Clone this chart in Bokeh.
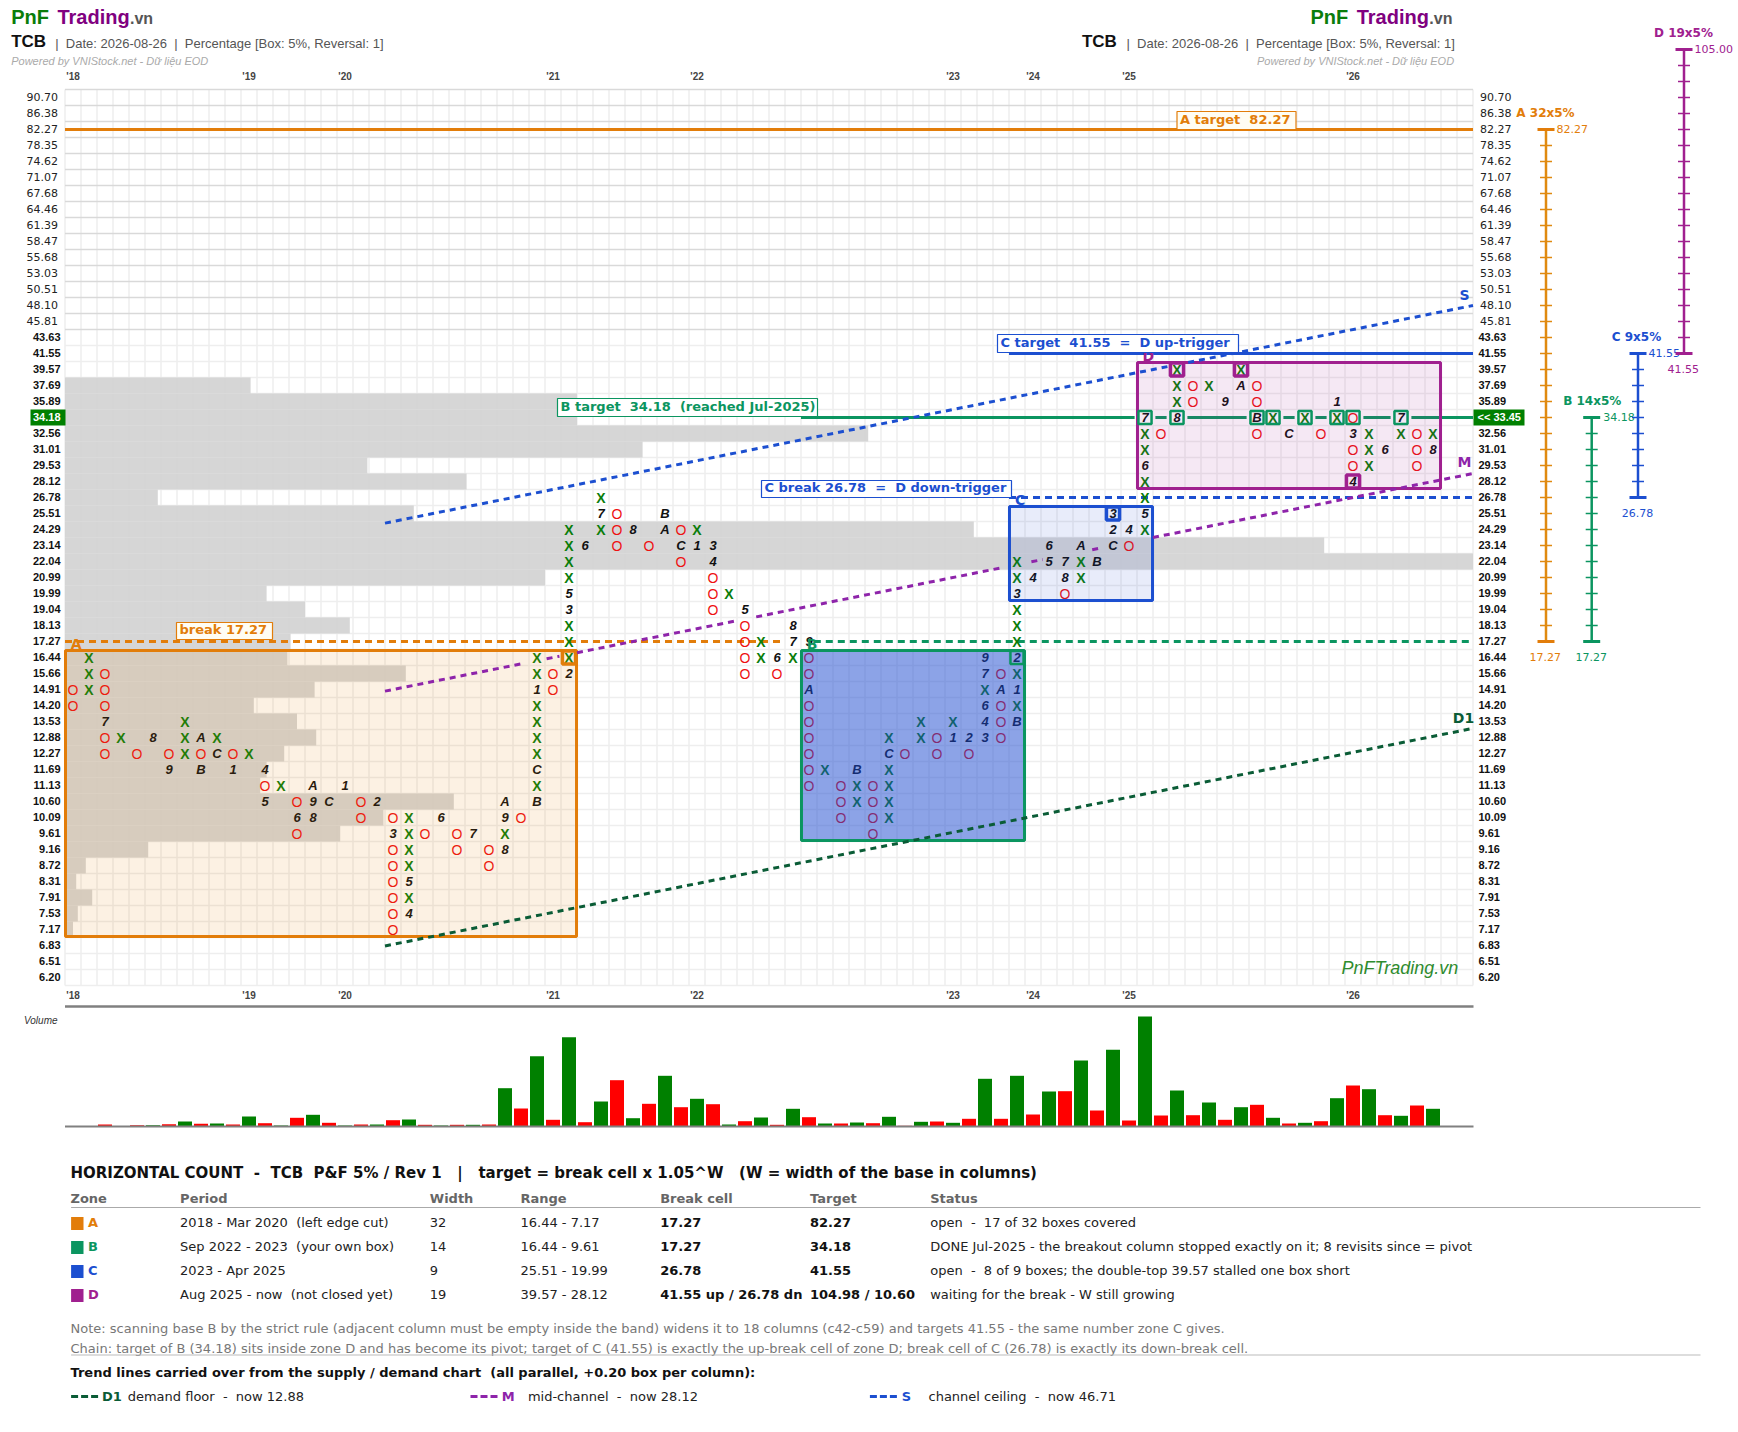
import re
from bokeh.plotting import figure
from bokeh.models import Range1d
from bokeh.core.properties import value
from bokeh.embed import file_html
from bokeh.resources import INLINE

# ---------------- data ----------------
price_labels = ["90.70","86.38","82.27","78.35","74.62","71.07","67.68","64.46","61.39","58.47",
 "55.68","53.03","50.51","48.10","45.81","43.63","41.55","39.57","37.69","35.89","34.18","32.56",
 "31.01","29.53","28.12","26.78","25.51","24.29","23.14","22.04","20.99","19.99","19.04","18.13",
 "17.27","16.44","15.66","14.91","14.20","13.53","12.88","12.27","11.69","11.13","10.60","10.09",
 "9.61","9.16","8.72","8.31","7.91","7.53","7.17","6.83","6.51","6.20"]
year_labels = ["'18","'19","'20","'21","'22","'23","'24","'25","'26"]
year_cols = [0,11,17,30,39,55,60,66,80]

col_index = list(range(86))
col_top = ["14.91","16.44","15.66","12.88","12.27","12.88","12.27","13.53","12.88","12.88",
 "12.27","12.27","11.69","11.13","10.60","11.13","10.60","11.13","10.60","10.60",
 "10.09","10.09","9.61","10.09","9.61","9.61","9.16","10.60","10.09","16.44",
 "15.66","24.29","23.14","26.78","25.51","24.29","23.14","25.51","24.29","24.29",
 "23.14","19.99","19.04","17.27","16.44","18.13","17.27","11.69","11.13","11.69",
 "11.13","12.88","12.27","13.53","12.88","13.53","12.88","16.44","15.66","22.04",
 "20.99","23.14","22.04","23.14","22.04","25.51","24.29","34.18","32.56","39.57",
 "37.69","37.69","35.89","39.57","37.69","34.18","32.56","34.18","32.56","35.89",
 "34.18","32.56","31.01","34.18","32.56","32.56"]
col_marks = ["OO","XXX","OOO7OO","X","O","8","O9","XXX","AOB","XC",
 "O1","X","4O5","X","O6O","A98","C","1","OO","2",
 "O3OOOOOO","XXXX5X4","O","6","OO","7","OO","A9X8","O","XX1XXXXCXB",
 "OO","XXXX53XXX2","6","X7X","OOO","8","O","BA","OCO","X1",
 "34OOO","X","5OOOO","XX","6O","87X","9OOAOOOOOO","X","OOO","BXX",
 "OOOO","XCXXXX","O","XX","OO","X1","2O","97X643","OAOOO","XX3XXX2X1XB",
 "4","65","78O","AXX","B","32C","4O","7XX6XX5X","O","XXX8",
 "OO","X","9","XA","OOBO","X","C","X","O","1X",
 "O3OO4","XXX","6","7X","OOO","X8"]

profile_top = "37.69"
profile_widths = [11.6,32.0,32.0,50.2,36.1,18.9,25.1,5.8,21.8,56.8,78.7,88.0,30.0,12.6,15.0,17.8,14.1,13.9,
 21.3,15.6,11.8,14.5,15.7,13.7,12.6,12.2,24.3,19.9,17.2,5.2,1.3,0.7,1.7,0.8,0.5]

volume = [0,0.5,2,0.3,1.3,1.3,2.3,5,2.7,3,2,10,3.3,1,8.7,11.7,3.7,1,2,2,6.3,7,1.7,1,1.7,1.7,2,38.3,18,70.3,
 6.7,89.3,4.3,25,46.3,8.3,22.7,50.7,19.3,27.7,22.3,2,5.3,9,1.7,17.7,9.3,3,3,4,3.3,9.7,0.7,4.7,5,3.7,7.7,47.7,
 7.7,50.7,12,35,35.3,66,16,76.7,6,110,11,36,11.3,24,6.7,19.3,21.7,8.7,3,3.7,5.3,28.3,41,37.3,11.3,10.7,21,17.7]
volume_dir = "rg"*43

zone_names = ["A","B","C","D"]
zone_col0 = [0,46,59,67]
zone_col1 = [31,59,67,85]
zone_hi = ["16.44","16.44","25.51","39.57"]
zone_lo = ["7.17","9.61","19.99","28.12"]
zone_line = ["#e27d0a","#0b9560","#1c4fd0","#a0208f"]
zone_fill = ["#e67e00","#1a47d0","#1a47d0","#a0208f"]
zone_alpha = [0.11,0.5,0.1,0.1]

boxed_col = [31,59,65,69,73,80,67,69,74,75,77,79,80,83]
boxed_price = ["16.44","16.44","25.51","39.57","39.57","28.12","34.18","34.18","34.18","34.18","34.18","34.18","34.18","34.18"]
boxed_color = ["#e27d0a","#0b9560","#1c4fd0","#a0208f","#a0208f","#a0208f"]+["#0b9560"]*8

trend_s_cols = [(19.5,68.4),(69.7,87.5)]
trend_m_cols = [(19.5,28.1),(29.6,30.4),(31.5,41.4),(42.7,58.2),(59.9,60.6),(63.7,64.2),(67.5,87.5)]
trend_d_cols = [(19.5,87.5)]
trend_start_row = {"S":26.6,"M":37.1,"D1":53.03}
trend_slope = -0.2

ruler_name = ["A 32x5%","B 14x5%","C 9x5%","D 19x5%"]
ruler_hi = [2,20,16,-3]
ruler_lo = [34,34,25,16]
ruler_hi_txt = ["82.27","34.18","41.55","105.00"]
ruler_lo_txt = ["17.27","17.27","26.78","41.55"]

table_head = ["Zone","Period","Width","Range","Break cell","Target","Status"]
table_period = ["2018 - Mar 2020  (left edge cut)","Sep 2022 - 2023  (your own box)","2023 - Apr 2025","Aug 2025 - now  (not closed yet)"]
table_width = ["32","14","9","19"]
table_range = ["16.44 - 7.17","16.44 - 9.61","25.51 - 19.99","39.57 - 28.12"]
table_break = ["17.27","17.27","26.78","41.55 up / 26.78 dn"]
table_target = ["82.27","34.18","41.55","104.98 / 10.60"]
table_status = ["open  -  17 of 32 boxes covered",
 "DONE Jul-2025 - the breakout column stopped exactly on it; 8 revisits since = pivot",
 "open  -  8 of 9 boxes; the double-top 39.57 stalled one box short",
 "waiting for the break - W still growing"]

# ---------------- page geometry ----------------
W, H = 1736, 1430
ORG = 0
def X(px): return (px - 72.5) / 16.0
def Y(py): return (py - 97.0) / 16.0
row_of = {p: i for i, p in enumerate(price_labels)}
N_COL, N_ROW = 88, 56
BASE = 1126.0

p = figure(width=W, height=H, x_range=Range1d(X(ORG), X(ORG+W)), y_range=Range1d(Y(ORG+H), Y(ORG)),
           output_backend="svg", toolbar_location=None, min_border=0,
           x_axis_type=None, y_axis_type=None, outline_line_color=None, tools="")
p.grid.visible = False
p.extra_y_ranges["vol"] = Range1d(BASE-(ORG+H), BASE-ORG)

DV = "DejaVu Sans"; LS = "Liberation Sans"
def keep_spaces(s):
    return re.sub(r" {2,}", lambda m: " " + "\u00a0"*(len(m.group())-1), s)
def txt(px, py, s, size=11, color="#222222", style="normal", font=DV, align="left"):
    p.text([X(px)], [Y(py-1)], text=[keep_spaces(s)], text_font=value(font), text_font_size=f"{size}px",
           text_color=color, text_font_style=style, text_align=align, text_baseline="middle")

# grid
x_edges = [c-0.5 for c in range(N_COL+1)]
p.segment(x_edges, [-0.5]*len(x_edges), x_edges, [N_ROW-0.5]*len(x_edges), line_color="#eeeeee", line_width=1.5)
y_edges = [r-0.5 for r in range(N_ROW+1)]
p.segment([-0.5]*len(y_edges), y_edges, [N_COL-0.5]*len(y_edges), y_edges,
          line_color=["#d9d9d9" if r <= 15 else "#eeeeee" for r in range(N_ROW+1)], line_width=1.5)

# volume-at-price profile
r0 = row_of[profile_top]
p.hbar(y=[r0+i for i in range(len(profile_widths))], left=-0.5, right=[w-0.5 for w in profile_widths],
       height=1, fill_color="#d3d3d3", fill_alpha=0.92, line_color=None)

# target and break lines
def hline(price, c0, c1, color, width, dash="solid"):
    r = row_of[price]
    p.line([c0, c1], [r, r], line_color=color, line_width=width, line_dash=dash)
hline("82.27", -0.5, 87.5, "#e27d0a", 3)
hline("41.55", 58.5, 87.5, "#1c4fd0", 3)
hline("34.18", 45.5, 87.5, "#0b9560", 3)
hline("17.27", -0.5, 44.3, "#e27d0a", 3, "7 5")
hline("17.27", 46.3, 87.5, "#0b9560", 3, "7 5")
hline("26.78", 58.5, 87.5, "#1c4fd0", 3, "7 5")

# halo around boxed cells
p.rect(boxed_col[6:], [row_of[b] for b in boxed_price[6:]], width=1.3, height=0.9, fill_color="white", line_color=None)

# marks
cells = {"X":([],[]), "O":([],[]), "M":([],[],[])}
for c, top, marks in zip(col_index, col_top, col_marks):
    r = row_of[top]
    for k, m in enumerate(marks):
        if m in "XO":
            cells[m][0].append(c); cells[m][1].append(r+k)
        else:
            cells["M"][0].append(c); cells["M"][1].append(r+k); cells["M"][2].append(m)
common = dict(text_align="center", text_baseline="middle", text_font=value(LS))
p.text(cells["X"][0], cells["X"][1], text=["X"]*len(cells["X"][0]), text_color="#0a7d0a", text_font_size="14px", text_font_style="bold", **common)
p.text(cells["O"][0], cells["O"][1], text=["O"]*len(cells["O"][0]), text_color="#ee1111", text_font_size="14px", **common)
p.text(cells["M"][0], cells["M"][1], text=cells["M"][2], text_color="#111111", text_font_size="13px", text_font_style="bold italic", **common)

# zones
for i, nm in enumerate(zone_names):
    top = row_of[zone_hi[i]]-0.44; bot = row_of[zone_lo[i]]+0.44
    l = zone_col0[i]-0.47; rr = zone_col1[i]+0.47
    p.quad(left=[l], right=[rr], top=[top], bottom=[bot], fill_color=zone_fill[i], fill_alpha=zone_alpha[i],
           line_color=zone_line[i], line_width=3)
    p.text([zone_col0[i]+0.2], [top-0.38], text=[nm], text_color=zone_line[i], text_font=value(DV),
           text_font_size="14px", text_font_style="bold", text_align="center", text_baseline="middle")
for c, b, col in zip(boxed_col, boxed_price, boxed_color):
    p.rect([c], [row_of[b]], width=0.82, height=0.82, fill_color=None, line_color=col,
           line_width=2.5 if col == "#0b9560" else 3.5)

# trend lines
def trend(name, spans, color):
    r_start = trend_start_row[name]
    xs = [[a, b] for a, b in spans]
    ys = [[r_start+(a-19.5)*trend_slope, r_start+(b-19.5)*trend_slope] for a, b in spans]
    p.multi_line(xs, ys, line_color=color, line_width=3, line_dash="6 5")
trend("S", trend_s_cols, "#1c4fd0")
trend("M", trend_m_cols, "#8e24aa")
trend("D1", trend_d_cols, "#0a5c36")
txt(1464, 295, "S", 14, "#1c4fd0", "bold", align="center")
txt(1464, 462, "M", 14, "#8e24aa", "bold", align="center")
txt(1463, 718, "D1", 14, "#0a5c36", "bold", align="center")

# boxed annotations
def tag(x0, x1, y0, y1, s, color, fill="white"):
    p.quad(left=[X(x0)], right=[X(x1)], top=[Y(y0)], bottom=[Y(y1)], fill_color=fill, line_color=color, line_width=1.2)
    txt(x0+3, (y0+y1)/2-0.5, s, 13, color, "bold")
tag(1176.5, 1295.5, 111, 129, "A target  82.27", "#e27d0a", "#fffdf3")
tag(176, 272, 622, 639, "break 17.27", "#e27d0a", "#fffdf3")
tag(557, 817, 398, 416, "B target  34.18  (reached Jul-2025)", "#0b9560")
tag(761, 1011, 480, 497, "C break 26.78  =  D down-trigger", "#1c4fd0")
tag(997, 1238, 334, 352, "C target  41.55  =  D up-trigger", "#1c4fd0")

# price labels
for r, lab in enumerate(price_labels):
    py = 97+16*r
    if r == 20:
        continue
    if r <= 14:
        txt(57.5, py, lab, 11, "#222222", align="right")
        txt(1479.5, py, lab, 11, "#222222")
    else:
        txt(60, py, lab, 11, "#111111", "bold", LS, "right")
        txt(1478, py, lab, 11, "#111111", "bold", LS)
p.quad(left=[X(30)], right=[X(65)], top=[Y(409)], bottom=[Y(425)], fill_color="#008000", line_color=None)
txt(60, 417, "34.18", 11, "white", "bold", LS, "right")
p.quad(left=[X(1473)], right=[X(1524)], top=[Y(409)], bottom=[Y(425)], fill_color="#008000", line_color=None)
txt(1477, 417, "<< 33.45", 11, "white", "bold", LS)

# year labels
for c, y in zip(year_cols, year_labels):
    for py in (77, 996):
        txt(72.5+16*c, py, y, 10, "#444444", "bold", LS, "center")
p.line([X(64.5), X(1473)], [Y(1006), Y(1006)], line_color="#808080", line_width=2.5)

# watermark
txt(1341, 968, "PnFTrading.vn", 18, "#2e8b2e", "italic", LS)

# headers
def header(x0, x_tcb, x_sub, x_pow):
    txt(x0, 17, "PnF", 20, "#0a7d0a", "bold", LS)
    txt(x0+46.2, 17, "Trading", 20, "#800080", "bold", LS)
    txt(x0+118.8, 19, ".vn", 16, "#555555", "bold", LS)
    txt(x_tcb, 42, "TCB", 17, "#111111", "bold", LS)
    txt(x_sub, 43.5, "|  Date: 2026-08-26  |  Percentage [Box: 5%, Reversal: 1]", 13, "#555555", "normal", LS)
    txt(x_pow, 61, "Powered by VNIStock.net - Dữ liệu EOD", 11, "#aaaaaa", "italic", LS)
header(10.7, 10.7, 54.7, 10.7)
header(1310, 1081.4, 1126, 1256.5)

# rulers
ruler_x = [1545.5, 1591.2, 1637.5, 1683.5]
ruler_color = ["#e08a10","#0b9560","#1c4fd0","#a0208f"]
ruler_cap = ["#e27d0a","#0b9560","#1c4fd0","#a0208f"]
name_xy = [(1545,113),(1591.7,401.7),(1636,337.7),(1683,33.3)]
hi_xy = [(1556,129,"left"),(1602.7,417,"left"),(1648,353,"left"),(1694,49,"left")]
lo_xy = [(1544.7,657,"center"),(1590.7,657,"center"),(1637,513,"center"),(1682.7,369,"center")]
for i in range(4):
    xc = X(ruler_x[i]); col = ruler_color[i]
    p.line([xc, xc], [ruler_hi[i], ruler_lo[i]], line_color=col, line_width=2.5)
    rows = list(range(ruler_hi[i]+1, ruler_lo[i]))
    p.segment([xc-6/16]*len(rows), rows, [xc+6/16]*len(rows), rows, line_color=col, line_width=1.5)
    ends = [ruler_hi[i], ruler_lo[i]]
    p.segment([xc-8.5/16]*2, ends, [xc+8.5/16]*2, ends, line_color=ruler_cap[i], line_width=3)
    txt(name_xy[i][0], name_xy[i][1], ruler_name[i], 12, ruler_cap[i], "bold", align="center")
    txt(hi_xy[i][0], hi_xy[i][1], ruler_hi_txt[i], 11, ruler_cap[i], align=hi_xy[i][2])
    txt(lo_xy[i][0], lo_xy[i][1], ruler_lo_txt[i], 11, ruler_cap[i], align=lo_xy[i][2])

# volume panel
vc = ["#008000" if d == "g" else "#ff0000" for d in volume_dir]
p.vbar(x=list(range(len(volume))), top=volume, bottom=0, width=0.875, fill_color=vc[:len(volume)], line_color=None, y_range_name="vol")
p.line([X(64.5), X(1473)], [Y(BASE), Y(BASE)], line_color="#808080", line_width=2)
txt(23.5, 1020.5, "Volume", 10, "#333333", "italic", LS)

# table
TX = 70.0
TS = 13
txt(TX, 1173, "HORIZONTAL COUNT  -  TCB  P&F 5% / Rev 1   |   target = break cell x 1.05^W   (W = width of the base in columns)", 15, "#111111", "bold")
col_x = [TX, 179.6, 429.3, 520, 659.7, 809.5, 929.7]
for x, h in zip(col_x, table_head):
    txt(x, 1199, h, TS, "#666666", "bold")
p.line([X(70.6), X(1700)], [Y(1207), Y(1207)], line_color="#aaaaaa", line_width=1)
row_y = [1223, 1247, 1271, 1295]
for i, y in enumerate(row_y):
    p.quad(left=[X(70.6)], right=[X(83)], top=[Y(y-6.5)], bottom=[Y(y+6.5)], fill_color=zone_line[i], line_color=None)
    txt(87.5, y, zone_names[i], TS, zone_line[i], "bold")
    txt(col_x[1], y, table_period[i], TS)
    txt(col_x[2], y, table_width[i], TS)
    txt(col_x[3], y, table_range[i], TS)
    txt(col_x[4], y, table_break[i], TS, "#111111", "bold")
    txt(col_x[5], y, table_target[i], TS, "#111111", "bold")
    txt(col_x[6], y, table_status[i], TS)
txt(TX, 1328.5, "Note: scanning base B by the strict rule (adjacent column must be empty inside the band) widens it to 18 columns (c42-c59) and targets 41.55 - the same number zone C gives.", TS, "#777777")
txt(TX, 1348.5, "Chain: target of B (34.18) sits inside zone D and has become its pivot; target of C (41.55) is exactly the up-break cell of zone D; break cell of C (26.78) is exactly its down-break cell.", TS, "#777777")
p.line([X(70.6), X(1700)], [Y(1354.5), Y(1354.5)], line_color="#bbbbbb", line_width=1)
txt(TX, 1372.5, "Trend lines carried over from the supply / demand chart  (all parallel, +0.20 box per column):", TS, "#111111", "bold")
legend = [(70.6,101.5,127.2,"D1","demand floor  -  now 12.88","#0a5c36"),
          (470,501.2,527.4,"M","mid-channel  -  now 28.12","#8e24aa"),
          (869.4,901.2,928,"S","channel ceiling  -  now 46.71","#1c4fd0")]
for x0, x1, x2, nm, s, col in legend:
    p.line([X(x0), X(x0+27)], [Y(1396)]*2, line_color=col, line_width=3, line_dash="7 3")
    txt(x1, 1396.5, nm, TS, col, "bold")
    txt(x2, 1396.5, s, TS)

open("out.html", "w").write(file_html(p, INLINE))
